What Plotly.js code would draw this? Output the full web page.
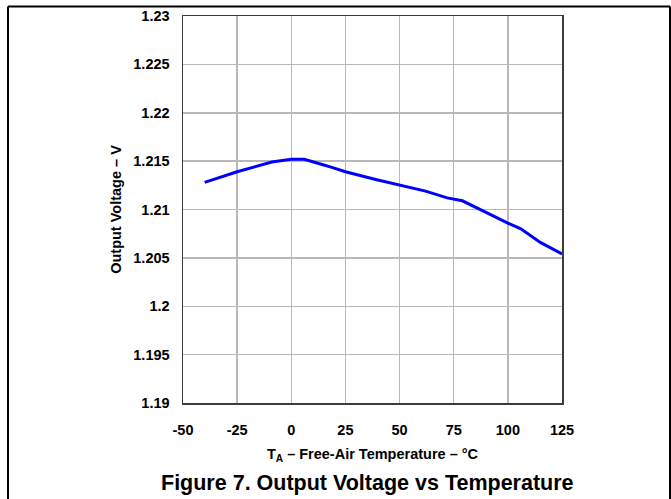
<!DOCTYPE html>
<html>
<head>
<meta charset="utf-8">
<script src="https://cdn.plot.ly/plotly-3.0.1.min.js"></script>
<style>
html,body{margin:0;padding:0;background:#fff;}
#chart{width:671px;height:499px;}
</style>
</head>
<body>
<div id="chart"></div>
<script>
// Data
var temperature = [-40, -25, -9, 0, 6, 11, 15, 18, 21, 25, 39, 50, 62, 72, 75, 79, 89, 98, 100, 106, 115, 125];
var voltage = [1.2128, 1.2139, 1.2149, 1.2152, 1.2152, 1.2149, 1.2146, 1.2144, 1.2142, 1.2139, 1.2131, 1.2125, 1.2119, 1.2112, 1.2111, 1.2109, 1.2098, 1.2088, 1.2086, 1.2080, 1.2066, 1.2054];

var xTickVals = [-50, -25, 0, 25, 50, 75, 100, 125];
var xTickText = ['-50', '-25', '0', '25', '50', '75', '100', '125'];
var yTickVals = [1.19, 1.195, 1.2, 1.205, 1.21, 1.215, 1.22, 1.225, 1.23];
var yTickText = ['1.19', '1.195', '1.2', '1.205', '1.21', '1.215', '1.22', '1.225', '1.23'];

var FONT = 'Liberation Sans, Arial, sans-serif';

var trace = {
  x: temperature,
  y: voltage,
  type: 'scatter',
  mode: 'lines',
  line: {color: '#0000ff', width: 3, shape: 'linear'},
  hoverinfo: 'skip'
};

var layout = {
  width: 671,
  height: 499,
  margin: {l: 183, r: 109, t: 16, b: 96},
  paper_bgcolor: '#ffffff',
  plot_bgcolor: '#ffffff',
  showlegend: false,
  font: {family: FONT, color: '#000000', size: 14, weight: 'bold'},
  xaxis: {
    range: [-50, 125],
    tickvals: xTickVals,
    ticktext: xTickText,
    ticks: '',
    ticklabelstandoff: 13,
    showgrid: true,
    gridcolor: '#b8b8b8',
    gridwidth: 1.5,
    zeroline: false,
    showline: true,
    mirror: true,
    linecolor: '#3c3c3c',
    linewidth: 1.5,
    tickfont: {family: FONT, size: 14.5, color: '#000', weight: 'bold'},
    title: {
      text: 'T<sub>A</sub> – Free-Air Temperature – °C',
      font: {family: FONT, size: 14.5, color: '#000', weight: 'bold'},
      standoff: 12
    }
  },
  yaxis: {
    range: [1.19, 1.23],
    tickvals: yTickVals,
    ticktext: yTickText,
    ticks: '',
    ticklabelstandoff: 9,
    showgrid: true,
    gridcolor: '#b8b8b8',
    gridwidth: 1.5,
    zeroline: false,
    showline: true,
    mirror: true,
    linecolor: '#3c3c3c',
    linewidth: 1.5,
    tickfont: {family: FONT, size: 14.5, color: '#000', weight: 'bold'},
    title: {
      text: 'Output Voltage – V',
      font: {family: FONT, size: 14.5, color: '#000', weight: 'bold'},
      standoff: 8
    }
  },
  annotations: [{
    xref: 'paper', yref: 'paper',
    x: (367 - 183) / 379, y: (403 - 483) / 387,
    xanchor: 'center', yanchor: 'middle',
    showarrow: false,
    text: 'Figure 7. Output Voltage vs Temperature',
    font: {family: FONT, size: 21.5, color: '#000', weight: 'bold'}
  }],
  shapes: [
    {type: 'line', xref: 'paper', yref: 'paper', x0: (8 - 183) / 379, x1: (8 - 183) / 379, y0: 1 + (16 - 6.5) / 387, y1: (403 - 520) / 387, line: {color: '#000', width: 2}},
    {type: 'line', xref: 'paper', yref: 'paper', x0: (8 - 183) / 379, x1: (670 - 183) / 379, y0: 1 + (16 - 6.5) / 387, y1: 1 + (16 - 6.5) / 387, line: {color: '#000', width: 2}},
    {type: 'line', xref: 'paper', yref: 'paper', x0: (670 - 183) / 379, x1: (670 - 183) / 379, y0: 1 + (16 - 6.5) / 387, y1: (403 - 520) / 387, line: {color: '#000', width: 2}}
  ]
};

Plotly.newPlot('chart', [trace], layout, {displayModeBar: false, staticPlot: true});
</script>
</body>
</html>
